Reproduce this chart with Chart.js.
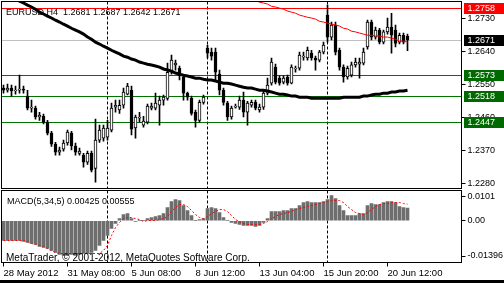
<!DOCTYPE html>
<html lang="en">
<head>
<meta charset="UTF-8" />
<title>EURUSD H4</title>
<script src="https://cdn.jsdelivr.net/npm/chart.js"></script>
<style>
  html, body { margin: 0; padding: 0; background: #fff; }
  #wrap { position: relative; width: 504px; height: 283px; overflow: hidden; background: #fff; }
  #priceChart { position: absolute; left: 0; top: 0; }
  #macdChart { position: absolute; left: 0; top: 188px; }
  #bottomBar { position: absolute; left: 0; top: 280px; width: 504px; height: 3px; background: #000; }
</style>
</head>
<body>
<div id="wrap">
  <canvas id="priceChart" width="504" height="190"></canvas>
  <canvas id="macdChart" width="504" height="92"></canvas>
  <div id="bottomBar"></div>
</div>

<script>
// EURUSD H4 candles, 28 May - 21 Jun 2012
const opens = [
  1.2540, 1.2534, 1.2540, 1.2532, 1.2534, 1.2537, 1.2518, 1.2485, 1.2485, 1.2461,
  1.2463, 1.2447, 1.2417, 1.2387, 1.2365, 1.2373, 1.2390, 1.2417, 1.2382, 1.2362,
  1.2357, 1.2338, 1.2362, 1.2321, 1.2398, 1.2403, 1.2406, 1.2425, 1.2488, 1.2480,
  1.2493, 1.2523, 1.2534, 1.2431, 1.2458, 1.2439, 1.2447, 1.2485, 1.2485, 1.2493,
  1.2507, 1.2512, 1.2583, 1.2603, 1.2594, 1.2570, 1.2526, 1.2512, 1.2474, 1.2452,
  1.2501, 1.2649, 1.2638, 1.2638, 1.2578, 1.2534, 1.2499, 1.2461, 1.2488, 1.2488,
  1.2507, 1.2474, 1.2493, 1.2501, 1.2480, 1.2488, 1.2526, 1.2553, 1.2597, 1.2567,
  1.2556, 1.2570, 1.2553, 1.2592, 1.2594, 1.2624, 1.2622, 1.2635, 1.2622, 1.2616,
  1.2638, 1.2739, 1.2679, 1.2712, 1.2643, 1.2597, 1.2570, 1.2575, 1.2603, 1.2605,
  1.2608, 1.2652, 1.2720, 1.2679, 1.2698, 1.2665, 1.2693, 1.2706, 1.2698, 1.2665,
  1.2684, 1.2681
];
const highs = [
  1.2548, 1.2551, 1.2548, 1.2545, 1.2575, 1.2545, 1.2534, 1.2507, 1.2491, 1.2474,
  1.2469, 1.2452, 1.2422, 1.2392, 1.2379, 1.2398, 1.2425, 1.2422, 1.2390, 1.2376,
  1.2362, 1.2368, 1.2368, 1.2455, 1.2439, 1.2439, 1.2452, 1.2499, 1.2507, 1.2507,
  1.2540, 1.2553, 1.2545, 1.2466, 1.2474, 1.2463, 1.2496, 1.2499, 1.2526, 1.2518,
  1.2521, 1.2608, 1.2630, 1.2616, 1.2600, 1.2575, 1.2529, 1.2518, 1.2480, 1.2507,
  1.2521, 1.2657, 1.2649, 1.2649, 1.2589, 1.2540, 1.2504, 1.2491, 1.2496, 1.2518,
  1.2529, 1.2504, 1.2507, 1.2507, 1.2496, 1.2534, 1.2567, 1.2622, 1.2605, 1.2573,
  1.2573, 1.2575, 1.2603, 1.2600, 1.2638, 1.2638, 1.2652, 1.2643, 1.2627, 1.2643,
  1.2665, 1.2766, 1.2720, 1.2720, 1.2649, 1.2603, 1.2600, 1.2611, 1.2622, 1.2622,
  1.2649, 1.2725, 1.2725, 1.2706, 1.2703, 1.2698, 1.2731, 1.2744, 1.2712, 1.2690,
  1.2690, 1.2687
];
const lows = [
  1.2526, 1.2529, 1.2518, 1.2523, 1.2526, 1.2526, 1.2480, 1.2474, 1.2455, 1.2452,
  1.2442, 1.2412, 1.2381, 1.2357, 1.2357, 1.2368, 1.2384, 1.2371, 1.2357, 1.2357,
  1.2324, 1.2332, 1.2311, 1.2283, 1.2392, 1.2395, 1.2398, 1.2420, 1.2474, 1.2471,
  1.2485, 1.2521, 1.2412, 1.2403, 1.2447, 1.2433, 1.2442, 1.2480, 1.2480, 1.2439,
  1.2493, 1.2507, 1.2578, 1.2589, 1.2562, 1.2507, 1.2507, 1.2466, 1.2433, 1.2447,
  1.2496, 1.2622, 1.2616, 1.2562, 1.2521, 1.2493, 1.2452, 1.2455, 1.2485, 1.2482,
  1.2461, 1.2439, 1.2488, 1.2480, 1.2474, 1.2482, 1.2521, 1.2548, 1.2551, 1.2548,
  1.2551, 1.2548, 1.2551, 1.2583, 1.2589, 1.2616, 1.2616, 1.2616, 1.2589, 1.2611,
  1.2633, 1.2665, 1.2671, 1.2630, 1.2589, 1.2556, 1.2564, 1.2570, 1.2597, 1.2567,
  1.2603, 1.2646, 1.2671, 1.2673, 1.2660, 1.2660, 1.2687, 1.2635, 1.2652, 1.2660,
  1.2660, 1.2642
];
const closes = [
  1.2534, 1.2540, 1.2532, 1.2534, 1.2537, 1.2534, 1.2485, 1.2488, 1.2461, 1.2466,
  1.2447, 1.2417, 1.2387, 1.2365, 1.2371, 1.2390, 1.2420, 1.2382, 1.2365, 1.2368,
  1.2338, 1.2362, 1.2316, 1.2398, 1.2425, 1.2431, 1.2431, 1.2485, 1.2493, 1.2493,
  1.2529, 1.2545, 1.2428, 1.2461, 1.2461, 1.2450, 1.2491, 1.2491, 1.2499, 1.2507,
  1.2515, 1.2583, 1.2616, 1.2608, 1.2573, 1.2526, 1.2515, 1.2471, 1.2452, 1.2501,
  1.2515, 1.2635, 1.2627, 1.2583, 1.2534, 1.2501, 1.2461, 1.2485, 1.2491, 1.2507,
  1.2474, 1.2499, 1.2501, 1.2485, 1.2488, 1.2526, 1.2548, 1.2611, 1.2556, 1.2553,
  1.2567, 1.2553, 1.2597, 1.2594, 1.2630, 1.2627, 1.2643, 1.2622, 1.2616, 1.2638,
  1.2657, 1.2679, 1.2712, 1.2638, 1.2597, 1.2570, 1.2594, 1.2603, 1.2611, 1.2611,
  1.2638, 1.2720, 1.2679, 1.2698, 1.2665, 1.2693, 1.2706, 1.2684, 1.2662, 1.2684,
  1.2665, 1.2671
];

// moving averages drawn on the price window
const maBlack = [
  1.2802, 1.2796, 1.2788, 1.2783, 1.2777, 1.2772, 1.2766, 1.2761, 1.2755, 1.2747,
  1.2742, 1.2736, 1.2731, 1.2725, 1.2720, 1.2714, 1.2709, 1.2703, 1.2698, 1.2693,
  1.2687, 1.2679, 1.2673, 1.2665, 1.2660, 1.2654, 1.2649, 1.2643, 1.2638, 1.2633,
  1.2627, 1.2624, 1.2619, 1.2616, 1.2611, 1.2608, 1.2605, 1.2603, 1.2600, 1.2597,
  1.2592, 1.2589, 1.2586, 1.2581, 1.2578, 1.2575, 1.2573, 1.2570, 1.2567, 1.2567,
  1.2564, 1.2562, 1.2562, 1.2559, 1.2556, 1.2553, 1.2553, 1.2551, 1.2548, 1.2545,
  1.2542, 1.2540, 1.2540, 1.2537, 1.2534, 1.2534, 1.2532, 1.2529, 1.2526, 1.2523,
  1.2523, 1.2521, 1.2518, 1.2518, 1.2515, 1.2515, 1.2515, 1.2512, 1.2512, 1.2512,
  1.2512, 1.2512, 1.2512, 1.2512, 1.2512, 1.2515, 1.2515, 1.2515, 1.2515, 1.2515,
  1.2518, 1.2518, 1.2521, 1.2523, 1.2523, 1.2526, 1.2526, 1.2529, 1.2529, 1.2532,
  1.2532, 1.2534
];
const maRed = [
  null, null, null, null, null, null, null, null, null, null,
  null, null, null, null, null, null, null, null, null, null,
  null, null, null, null, null, null, null, null, null, null,
  null, null, null, null, null, null, null, null, null, null,
  null, null, null, null, null, null, null, null, null, null,
  null, null, null, null, null, null, null, null, null, null,
  null, null, 1.2783, 1.2780, 1.2774, 1.2772, 1.2769, 1.2763, 1.2761, 1.2758,
  1.2755, 1.2750, 1.2747, 1.2744, 1.2739, 1.2736, 1.2733, 1.2731, 1.2728, 1.2722,
  1.2720, 1.2717, 1.2714, 1.2712, 1.2709, 1.2703, 1.2701, 1.2695, 1.2693, 1.2690,
  1.2687, 1.2684, 1.2684, 1.2682, 1.2682, 1.2679, 1.2679, 1.2676, 1.2673, 1.2668,
  1.2668, 1.2665
];

// MACD(5,34,5)
const macdMain = [
  -0.00661, -0.00661, -0.00661, -0.00661, -0.00661, -0.00695, -0.00728, -0.00762, -0.00795, -0.00862,
  -0.00895, -0.00929, -0.00995, -0.01062, -0.01129, -0.01162, -0.01162, -0.01129, -0.01162, -0.01129,
  -0.01096, -0.01096, -0.01062, -0.00995, -0.00828, -0.00661, -0.00494, -0.00261, -0.00094, 0.00073,
  0.00207, 0.00240, 0.00073, -0.00027, 0.00007, 0.00007, 0.00073, 0.00107, 0.00140, 0.00174,
  0.00240, 0.00441, 0.00641, 0.00708, 0.00675, 0.00508, 0.00341, 0.00174, 0.00007, 0.00040,
  0.00073, 0.00407, 0.00441, 0.00407, 0.00274, 0.00107, 0.00007, -0.00060, -0.00094, -0.00127,
  -0.00160, -0.00160, -0.00160, -0.00194, -0.00160, -0.00060, 0.00073, 0.00307, 0.00307, 0.00307,
  0.00341, 0.00341, 0.00407, 0.00407, 0.00508, 0.00608, 0.00641, 0.00608, 0.00608, 0.00608,
  0.00641, 0.00708, 0.00842, 0.00741, 0.00508, 0.00341, 0.00174, 0.00174, 0.00174, 0.00240,
  0.00240, 0.00508, 0.00574, 0.00541, 0.00541, 0.00608, 0.00641, 0.00641, 0.00608, 0.00474,
  0.00441, 0.00425
];
const macdSignal = [
  -0.00661, -0.00661, -0.00661, -0.00661, -0.00661, -0.00661, -0.00695, -0.00762, -0.00795, -0.00828,
  -0.00862, -0.00929, -0.00995, -0.01062, -0.01096, -0.01096, -0.01096, -0.01096, -0.01096, -0.01096,
  -0.01096, -0.01096, -0.01096, -0.01096, -0.01096, -0.00995, -0.00828, -0.00494, -0.00227, -0.00060,
  0.00073, 0.00107, 0.00107, 0.00073, 0.00040, -0.00027, 0.00007, 0.00007, 0.00007, 0.00040,
  0.00073, 0.00140, 0.00307, 0.00441, 0.00541, 0.00541, 0.00474, 0.00341, 0.00207, 0.00107,
  0.00073, 0.00140, 0.00240, 0.00307, 0.00374, 0.00374, 0.00307, 0.00174, 0.00040, -0.00027,
  -0.00094, -0.00127, -0.00127, -0.00127, -0.00127, -0.00094, -0.00027, 0.00073, 0.00140, 0.00207,
  0.00240, 0.00274, 0.00307, 0.00374, 0.00407, 0.00441, 0.00474, 0.00508, 0.00541, 0.00574,
  0.00608, 0.00641, 0.00675, 0.00675, 0.00675, 0.00608, 0.00474, 0.00374, 0.00274, 0.00240,
  0.00207, 0.00274, 0.00374, 0.00474, 0.00541, 0.00574, 0.00574, 0.00608, 0.00608, 0.00608,
  0.00574, 0.00555
];

// horizontal lines and their kinds
const levelPrices = [1.2758, 1.2671, 1.2573, 1.2518, 1.2447];
const levelKinds = ['red', 'bid', 'green', 'green', 'green'];

// vertical dashed lines (bar index)
const separatorBars = [26, 51, 81];

// axis ticks
const priceTicks = [1.2730, 1.2640, 1.2550, 1.2460, 1.2370, 1.2280];
const macdTicks = [0.0101, 0, -0.01396];
const macdTickLabels = ['0.0101', '0.00', '-0.01396'];
const timeTickBars = [0, 16, 32, 48, 64, 80, 96];
const timeTickLabels = ['28 May 2012', '31 May 08:00', '5 Jun 08:00', '8 Jun 12:00',
                        '13 Jun 04:00', '15 Jun 20:00', '20 Jun 12:00'];

const titleText = 'EURUSD,H4  1.2681 1.2687 1.2642 1.2671';
const macdText = 'MACD(5,34,5) 0.00425 0.00555';
const copyText = 'MetaTrader, \u00A9 2001-2012, MetaQuotes Software Corp.';

// bar slots incl. the empty shift area on the right
const slotCount = 115;
const slots = Array.from({ length: slotCount }, (_, i) => i);

const levelStyle = {
  red:   { line: '#ff0000', box: '#ff0000' },
  bid:   { line: '#c0c0c0', box: '#000000' },
  green: { line: '#007400', box: '#006a00' }
};
const FONT = 'Liberation Sans, Arial, sans-serif';

Chart.defaults.font.family = FONT;
Chart.defaults.font.size = 9;
Chart.defaults.color = '#000';

// keep the plot boxes exactly where the layout padding puts them
function fixedWidth(s) {
  s.width = 42.5;
  s.paddingTop = 0; s.paddingBottom = 0;
}

function drawFrame(chart) {
  const { ctx, chartArea: a } = chart;
  ctx.save();
  ctx.strokeStyle = '#000';
  ctx.lineWidth = 1;
  ctx.strokeRect(a.left, a.top, a.right - a.left, a.bottom - a.top);
  ctx.restore();
}

function drawSeparators(chart) {
  const { ctx, chartArea: a, scales } = chart;
  ctx.save();
  ctx.strokeStyle = '#000';
  ctx.lineWidth = 1;
  ctx.setLineDash([3, 2]);
  separatorBars.forEach(b => {
    const x = Math.floor(scales.x.getPixelForValue(b)) + 0.5;
    ctx.beginPath();
    ctx.moveTo(x, a.top);
    ctx.lineTo(x, a.bottom);
    ctx.stroke();
  });
  ctx.restore();
}

const pricePlugin = {
  id: 'pricePlugin',
  beforeDatasetsDraw(chart) {
    const { ctx, chartArea: a, scales } = chart;
    drawSeparators(chart);
    ctx.save();
    levelPrices.forEach((p, k) => {
      const y = Math.floor(scales.y.getPixelForValue(p)) + 0.5;
      ctx.strokeStyle = levelStyle[levelKinds[k]].line;
      ctx.lineWidth = 1;
      ctx.beginPath();
      ctx.moveTo(a.left, y);
      ctx.lineTo(a.right, y);
      ctx.stroke();
    });
    ctx.fillStyle = '#000';
    ctx.font = '9px ' + FONT;
    ctx.textBaseline = 'alphabetic';
    ctx.fillText(titleText, a.left + 4.5, 15);
    ctx.restore();
  },
  afterDraw(chart) {
    const { ctx, scales } = chart;
    const ys = scales.y;
    ctx.save();
    ctx.font = '9px ' + FONT;
    ctx.textBaseline = 'middle';
    levelPrices.forEach((p, k) => {
      const y = Math.floor(ys.getPixelForValue(p));
      ctx.fillStyle = levelStyle[levelKinds[k]].box;
      ctx.fillRect(ys.left + 2.5, y - 5, 40, 11);
      ctx.fillStyle = '#fff';
      ctx.fillText(p.toFixed(4), ys.left + 6, y + 0.5);
    });
    ctx.restore();
    drawFrame(chart);
  }
};

const macdPlugin = {
  id: 'macdPlugin',
  beforeDatasetsDraw(chart) {
    drawSeparators(chart);
  },
  afterDatasetsDraw(chart) {
    const { ctx, chartArea: a } = chart;
    ctx.save();
    ctx.fillStyle = '#000';
    ctx.textBaseline = 'alphabetic';
    ctx.font = '9px ' + FONT;
    ctx.fillText(macdText, a.left + 5.5, a.top + 13);
    ctx.font = '10px ' + FONT;
    ctx.fillText(copyText, a.left + 4.5, a.bottom - 2);
    ctx.restore();
    drawFrame(chart);
  }
};

const bull = opens.map((o, i) => closes[i] >= o);

new Chart(document.getElementById('priceChart'), {
  type: 'bar',
  data: {
    labels: slots,
    datasets: [
      { type: 'line', data: maRed, borderColor: '#ff0000', borderWidth: 1,
        pointRadius: 0, tension: 0, order: 0 },
      { type: 'line', data: maBlack, borderColor: '#000', borderWidth: 3,
        pointRadius: 0, tension: 0, order: 1 },
      { data: opens.map((o, i) => [o, closes[i]]),
        backgroundColor: bull.map(b => b ? '#fff' : '#000'),
        borderColor: '#000', borderWidth: 1, borderSkipped: false,
        barThickness: 3, grouped: false, order: 2 },
      { data: lows.map((l, i) => [l, highs[i]]),
        backgroundColor: '#000', borderWidth: 0,
        barThickness: 1, grouped: false, order: 3 }
    ]
  },
  options: {
    responsive: false,
    animation: false,
    events: [],
    layout: { padding: { left: 1.5, top: 1.5, bottom: 1.5, right: 0 } },
    plugins: { legend: { display: false }, tooltip: { enabled: false } },
    scales: {
      x: { display: false, offset: true },
      y: {
        position: 'right',
        min: 1.2266, max: 1.2776,
        afterFit: fixedWidth,
        afterBuildTicks(s) { s.ticks = priceTicks.map(v => ({ value: v })); },
        ticks: { callback: v => v.toFixed(4), padding: 2, font: { size: 9 } },
        grid: { drawOnChartArea: false, drawTicks: true, tickLength: 4, color: '#000' },
        border: { display: true, color: '#000' }
      }
    }
  },
  plugins: [pricePlugin]
});

new Chart(document.getElementById('macdChart'), {
  type: 'bar',
  data: {
    labels: slots,
    datasets: [
      { type: 'line', data: macdSignal, borderColor: '#ff0000', borderWidth: 1,
        borderDash: [2, 2], pointRadius: 0, tension: 0, order: 0 },
      { data: macdMain, backgroundColor: '#6e6e6e', barThickness: 3, order: 1 }
    ]
  },
  options: {
    responsive: false,
    animation: false,
    events: [],
    layout: { padding: { left: 1.5, top: 2.5, bottom: 0, right: 0 } },
    plugins: { legend: { display: false }, tooltip: { enabled: false } },
    scales: {
      x: {
        offset: true,
        afterFit(s) { s.height = 17.5; s.paddingLeft = 0; s.paddingRight = 0; },
        afterBuildTicks(s) { s.ticks = timeTickBars.map(v => ({ value: v })); },
        ticks: {
          autoSkip: false, maxRotation: 0, align: 'start', padding: 1,
          font: { size: 9.5 },
          callback: v => timeTickLabels[timeTickBars.indexOf(v)]
        },
        grid: { drawOnChartArea: false, drawTicks: true, tickLength: 4, offset: false, color: '#000' },
        border: { display: true, color: '#000' }
      },
      y: {
        position: 'right',
        min: -0.01396, max: 0.0101,
        afterFit: fixedWidth,
        afterBuildTicks(s) { s.ticks = macdTicks.map(v => ({ value: v })); },
        afterUpdate(s) {
          // window max/min labels sit just inside the window edges
          s.getPixelForTick = function (i) {
            const p = this.getPixelForValue(this.ticks[i].value);
            return Math.min(Math.max(p, this.top + 6), this.bottom - 6.5);
          };
        },
        ticks: { callback: (v, i) => macdTickLabels[i], padding: 2, font: { size: 9 } },
        grid: { drawOnChartArea: false, drawTicks: true, tickLength: 4, color: '#000' },
        border: { display: true, color: '#000' }
      }
    }
  },
  plugins: [macdPlugin]
});
</script>
</body>
</html>
